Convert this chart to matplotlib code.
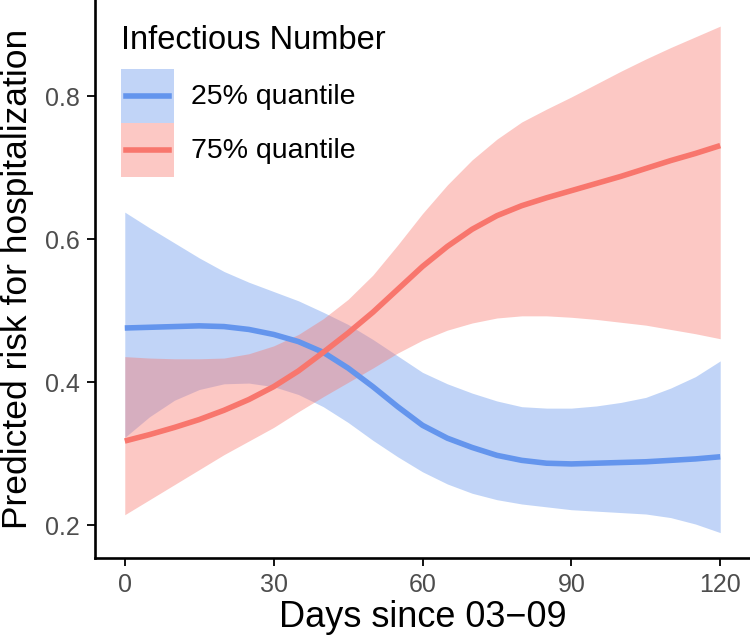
import matplotlib.pyplot as plt
from matplotlib.patches import Patch, Rectangle
from matplotlib.lines import Line2D
from matplotlib.legend_handler import HandlerBase

plt.rcParams['font.family'] = ['Liberation Sans', 'DejaVu Sans']

days = [0, 5, 10, 15, 20, 25, 30, 35, 40, 45, 50, 55, 60,
        65, 70, 75, 80, 85, 90, 95, 100, 105, 110, 115, 120]

# 25% quantile
q25_fit = [0.476, 0.477, 0.478, 0.479, 0.478, 0.474, 0.467, 0.457, 0.442, 0.420, 0.394, 0.366, 0.340,
           0.322, 0.309, 0.298, 0.291, 0.287, 0.286, 0.287, 0.288, 0.289, 0.291, 0.293, 0.296]
q25_hi = [0.638, 0.616, 0.595, 0.574, 0.555, 0.540, 0.527, 0.514, 0.498, 0.481, 0.460, 0.437, 0.414,
          0.398, 0.385, 0.374, 0.366, 0.364, 0.364, 0.367, 0.372, 0.379, 0.392, 0.408, 0.430]
q25_lo = [0.323, 0.352, 0.375, 0.390, 0.398, 0.399, 0.394, 0.383, 0.366, 0.344, 0.319, 0.296, 0.275,
          0.258, 0.245, 0.236, 0.230, 0.226, 0.222, 0.220, 0.218, 0.216, 0.211, 0.202, 0.190]

# 75% quantile
q75_fit = [0.318, 0.327, 0.337, 0.348, 0.361, 0.376, 0.394, 0.416, 0.442, 0.469, 0.498, 0.530, 0.562,
           0.590, 0.614, 0.633, 0.647, 0.658, 0.668, 0.678, 0.688, 0.699, 0.710, 0.720, 0.731]
q75_hi = [0.436, 0.434, 0.433, 0.433, 0.434, 0.440, 0.451, 0.467, 0.489, 0.516, 0.550, 0.592, 0.636,
          0.676, 0.711, 0.740, 0.764, 0.782, 0.799, 0.817, 0.835, 0.852, 0.868, 0.883, 0.898]
q75_lo = [0.215, 0.236, 0.257, 0.278, 0.299, 0.318, 0.337, 0.359, 0.380, 0.400, 0.420, 0.441, 0.459,
          0.473, 0.483, 0.490, 0.493, 0.493, 0.491, 0.488, 0.484, 0.480, 0.474, 0.468, 0.461]

labels = ['25% quantile', '75% quantile']
blue = '#6495ED'
red = '#F8766D'


class RibbonKey(HandlerBase):
    # filled square with the line through the middle, like ggplot's smooth key
    def create_artists(self, legend, orig_handle, xdescent, ydescent,
                       width, height, fontsize, trans):
        c = orig_handle.get_facecolor()
        rect = Rectangle((-xdescent, -ydescent), width, height, facecolor=c,
                         alpha=0.4, linewidth=0, transform=trans)
        ymid = -ydescent + height / 2
        line = Line2D([-xdescent + 0.1 * width, -xdescent + 0.9 * width], [ymid, ymid],
                      color=c[:3], lw=4, transform=trans)
        return [rect, line]


fig = plt.figure(figsize=(7.5, 6.37), dpi=100)
ax = fig.add_axes([95 / 750, 1 - 558 / 637, 655 / 750, 558 / 637])

ax.fill_between(days, q25_lo, q25_hi, color=blue, alpha=0.4, linewidth=0)
ax.fill_between(days, q75_lo, q75_hi, color=red, alpha=0.4, linewidth=0)
ax.plot(days, q25_fit, color=blue, lw=4, solid_capstyle='butt')
ax.plot(days, q75_fit, color=red, lw=4, solid_capstyle='butt')

ax.set_xlim(-6, 126)
ax.set_ylim(0.1545, 0.9345)
ax.set_xticks([0, 30, 60, 90, 120])
ax.set_yticks([0.2, 0.4, 0.6, 0.8])
ax.set_yticklabels(['0.2', '0.4', '0.6', '0.8'])

for side in ['top', 'right']:
    ax.spines[side].set_visible(False)
for side in ['left', 'bottom']:
    ax.spines[side].set_linewidth(1.9)
ax.tick_params(length=6, width=1.3, labelsize=18, labelcolor='#4D4D4D', pad=5)

ax.set_xlabel('Days since 03\u221209', fontsize=26, labelpad=2)
ax.set_ylabel('Predicted risk for hospitalization', fontsize=25.5, labelpad=8)

handles = [Patch(facecolor=blue), Patch(facecolor=red)]
leg = ax.legend(handles, labels, handler_map={Patch: RibbonKey()},
                title='Infectious Number', title_fontsize=23.5, fontsize=20.5,
                loc='upper left', bbox_to_anchor=(0.04, 0.955), frameon=False,
                handlelength=1.86, handleheight=2.54, labelspacing=0,
                handletextpad=0.6, borderpad=0, borderaxespad=0)
leg._legend_box.align = 'left'
leg._legend_box.sep = 9

fig.savefig('out.png', dpi=100)
